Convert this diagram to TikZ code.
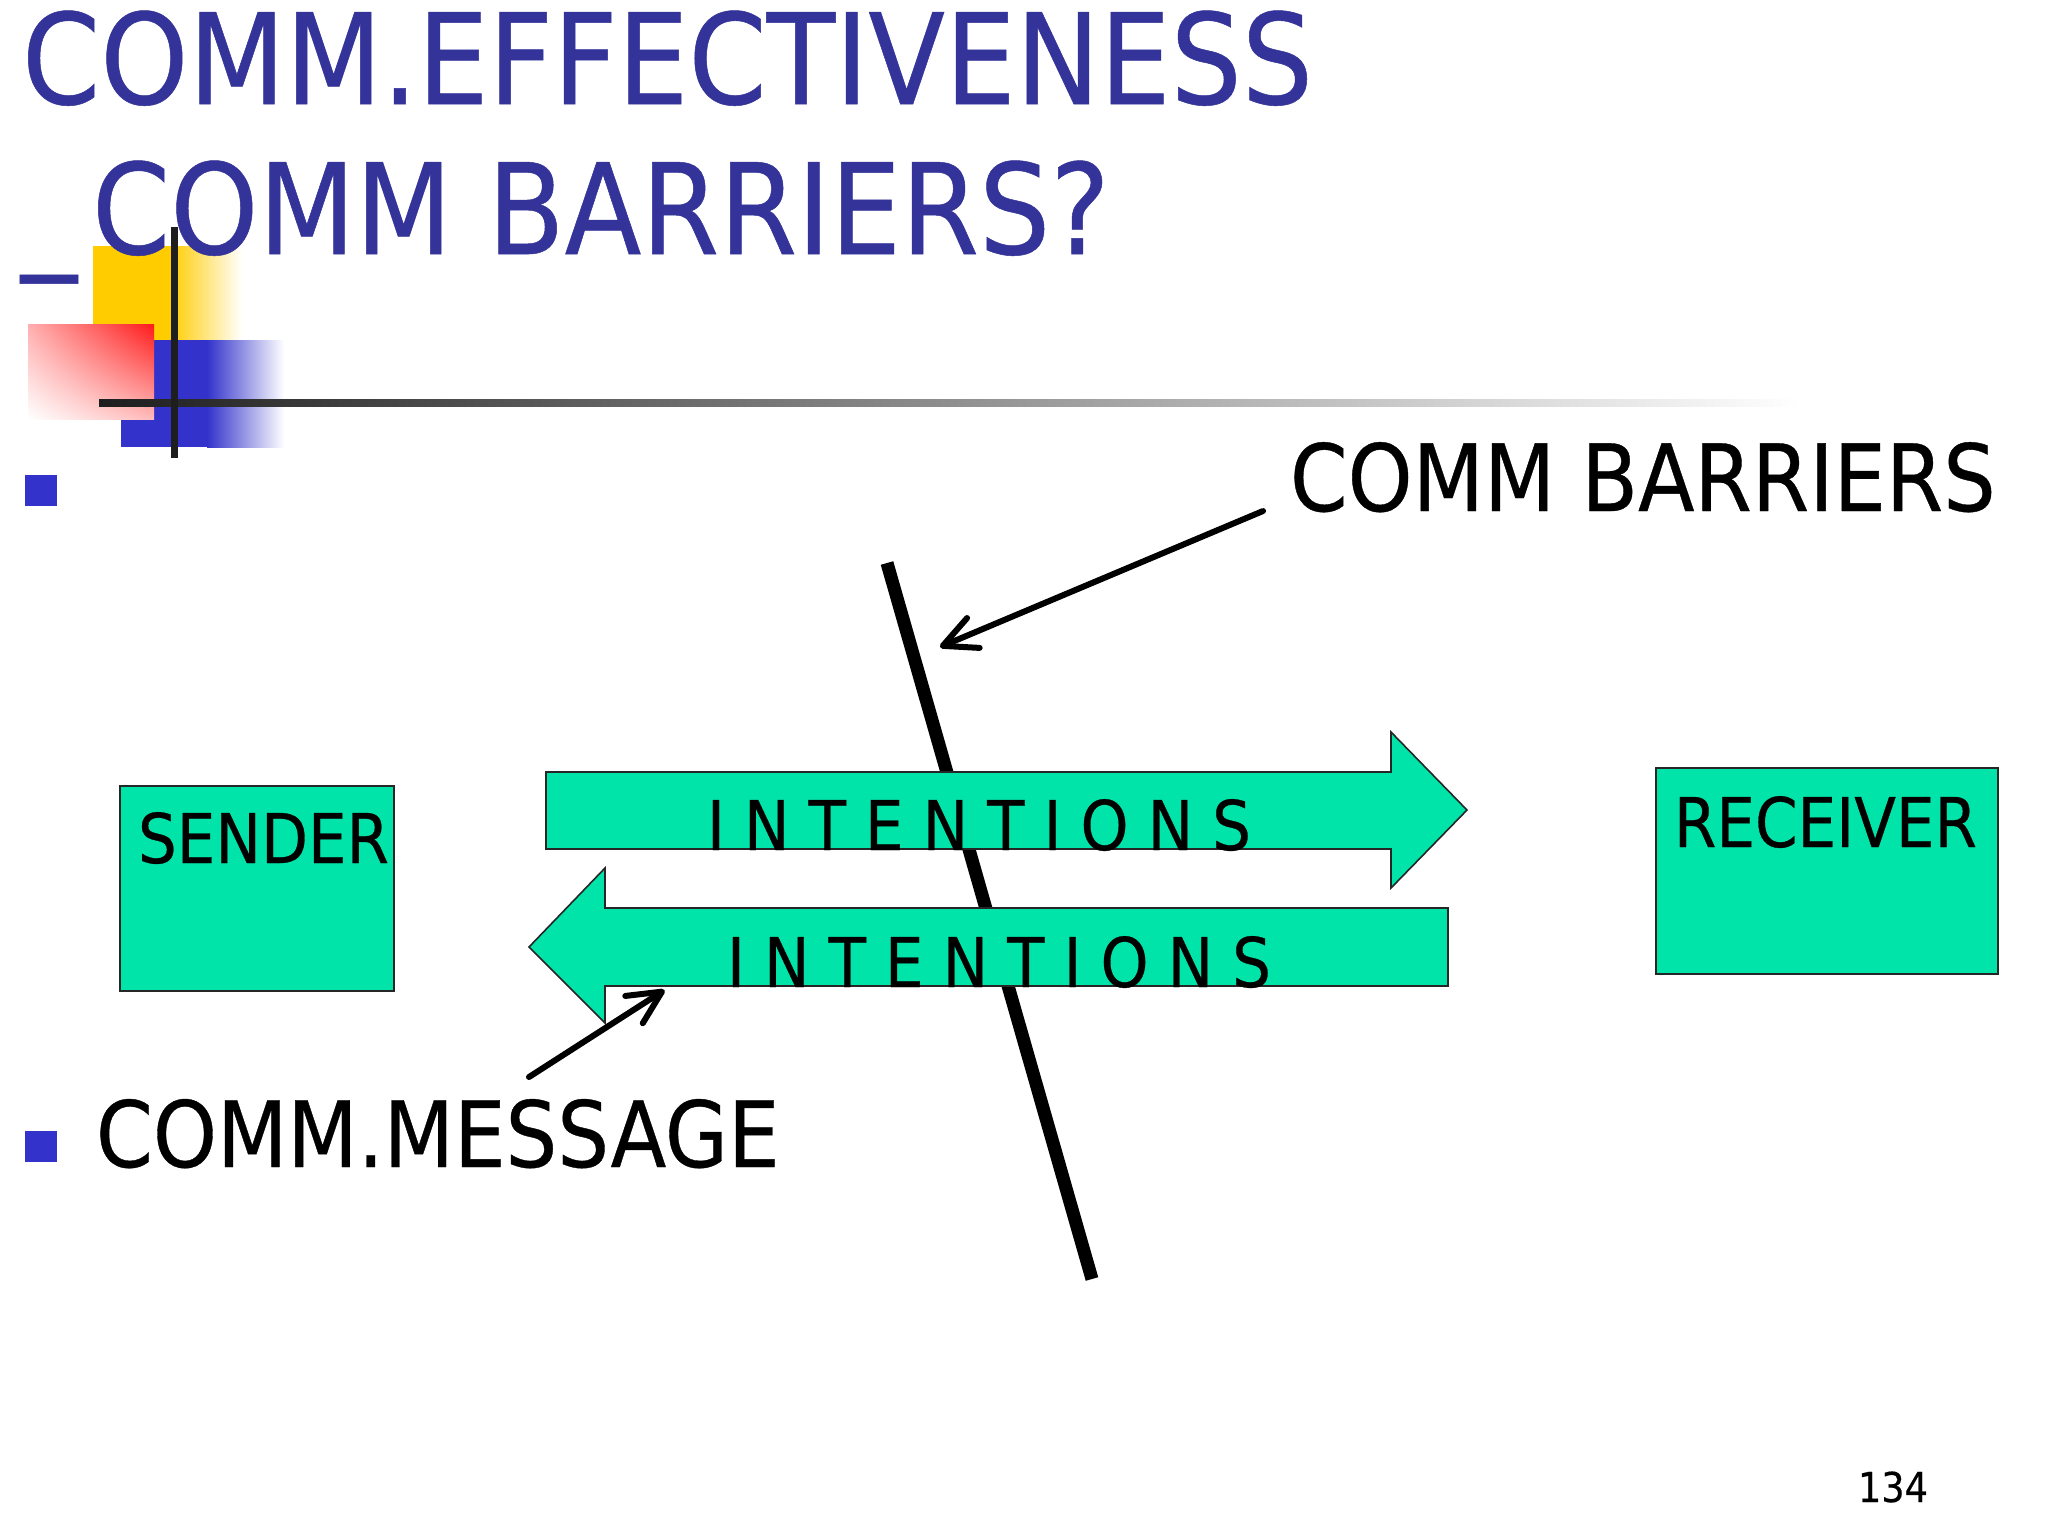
\documentclass[tikz,border=0pt]{standalone}
\usepackage{fontspec}
\setmainfont{DejaVu Sans}[FakeStretch=0.89,FakeBold=0.4]
\usetikzlibrary{arrows.meta,shadings}
\definecolor{titleblue}{HTML}{333399}
\definecolor{bulletblue}{HTML}{3333CC}
\definecolor{mint}{HTML}{00E4AA}
\definecolor{decoyellow}{HTML}{FFCC00}
\definecolor{decored}{HTML}{FF1A1A}
\definecolor{decoline}{HTML}{1E1E1E}
\newcommand{\intsp}{\kern4.75pt}
\begin{document}
\begin{tikzpicture}[x=0.25pt,y=-0.25pt,
  txt/.style={inner sep=0pt,outer sep=0pt,anchor=base west},
  ctxt/.style={inner sep=0pt,outer sep=0pt,anchor=base},
  boxshape/.style={fill=mint,draw=black!85,line width=0.5pt,inner sep=0pt,anchor=north west},
  arrowshape/.style={fill=mint,draw=black!85,line width=0.4pt,line join=miter},
  barbarrow/.style={line width=1.5pt,line cap=round,-{Straight Barb[length=8.3pt,width=8.1pt,round]}},
  bulletsq/.style={fill=bulletblue},
  titlefont/.style={font=\fontsize{31.5}{36}\selectfont,text=titleblue},
  bigfont/.style={font=\fontsize{23.2}{27}\selectfont},
  boxfont/.style={font=\fontsize{17.15}{20}\selectfont}]
\useasboundingbox (0,0) rectangle (2048,1536);
\fill[white] (0,0) rectangle (2048,1536);

% decoration squares
\fill[decoyellow] (93,246) rectangle (171,345);
\shade[left color=decoyellow,right color=white] (170,246) rectangle (242,345);
\fill[bulletblue] (121,340) rectangle (208,447);
\shade[left color=bulletblue,right color=white] (207,340) rectangle (284,447);
\shade[upper right=decored,upper left=decored!35,lower right=decored!30,lower left=white] (28,324) rectangle (154,419);

% title
\node[txt,titlefont] (title1) at (22,104) {COMM.EFFECTIVENESS};
\node[txt,titlefont] (title2) at (21,254) {\_\kern3.75pt COMM BARRIERS?};

% decoration lines
\shade[left color=decoline,right color=white] (99,399) rectangle (1800,406);
\fill[decoline] (171,227) rectangle (177.5,458);

% bullets
\fill[bulletsq] (25,475) rectangle (57,506);
\fill[bulletsq] (25,1131) rectangle (57,1162);

% barrier line
\coordinate (barTop) at (887,563);
\coordinate (barBot) at (1092,1279);
\draw[line width=3.25pt] (barTop) -- (barBot);

% boxes
\node[boxshape,minimum width=68.5pt,minimum height=51.25pt] (sender) at (119,785) {};
\node[txt,boxfont] (senderlbl) at (138,863) {SENDER};
\node[boxshape,minimum width=85.5pt,minimum height=51.5pt] (receiver) at (1655,767) {};
\node[txt,boxfont] (receiverlbl) at (1674,847) {RECEIVER};

% intention arrows
\draw[arrowshape] (546,772) -- (1391,772) -- (1391,732) -- (1467,810) -- (1391,888) -- (1391,849) -- (546,849) -- cycle;
\node[ctxt,boxfont] (int1) at (979,850) {I\intsp N\intsp T\intsp E\intsp N\intsp T\intsp I\intsp O\intsp N\intsp S};
\draw[arrowshape] (1448,908) -- (605,908) -- (605,868) -- (529,947) -- (605,1023) -- (605,986) -- (1448,986) -- cycle;
\node[ctxt,boxfont] (int2) at (999,987) {I\intsp N\intsp T\intsp E\intsp N\intsp T\intsp I\intsp O\intsp N\intsp S};

% labels
\node[txt,bigfont] (barlbl) at (1290,511) {COMM BARRIERS};
\node[txt,font=\fontsize{22.9}{27}\selectfont] (msglbl) at (96,1167) {COMM.MESSAGE};

% connectors
\coordinate (cbStart) at (1263,511);
\coordinate (cbTip) at (940,647);
\draw[barbarrow] (cbStart) -- (cbTip);
\coordinate (cmStart) at (529,1077);
\coordinate (cmTip) at (664.5,990);
\draw[barbarrow] (cmStart) -- (cmTip);

% page number
\node[ctxt,font=\fontsize{10.3}{12}\selectfont] (pagenum) at (1893,1502) {134};
\end{tikzpicture}
\end{document}
